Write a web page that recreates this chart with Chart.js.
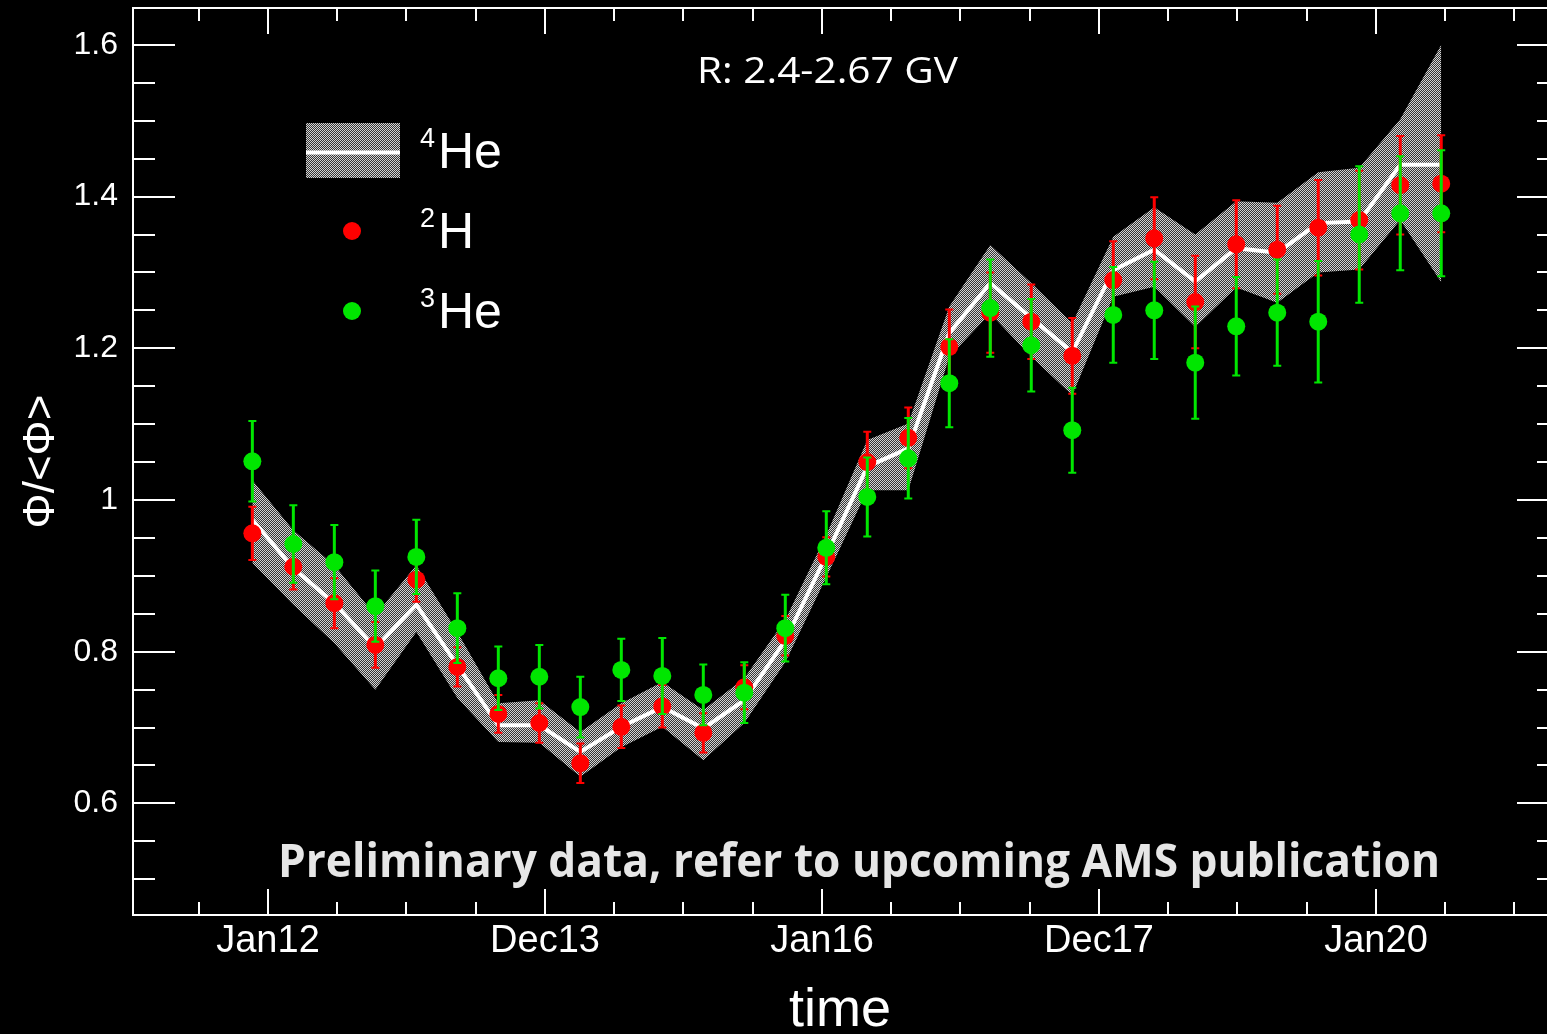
<!DOCTYPE html>
<html>
<head>
<meta charset="utf-8">
<script src="https://cdn.jsdelivr.net/npm/chart.js@4.4.1/dist/chart.umd.min.js"></script>
<style>
  html, body { margin: 0; padding: 0; background: #000; }
  #wrap { width: 1547px; height: 1034px; }
</style>
</head>
<body>
<div id="wrap"><canvas id="fluxChart" width="1547" height="1034"></canvas></div>
<script>
// bin centres (4 Bartels rotations each), decimal years
var binTime = [2011.887, 2012.183, 2012.479, 2012.775, 2013.071, 2013.367, 2013.663, 2013.959,
               2014.255, 2014.551, 2014.847, 2015.143, 2015.439, 2015.735, 2016.031, 2016.327,
               2016.623, 2016.919, 2017.215, 2017.511, 2017.807, 2018.103, 2018.399, 2018.695,
               2018.991, 2019.287, 2019.583, 2019.879, 2020.175, 2020.471];

// 4He: central value and band edges
var he4Mid = [0.974, 0.910, 0.864, 0.805, 0.862, 0.782, 0.703, 0.703, 0.668, 0.701,
              0.727, 0.699, 0.736, 0.815, 0.927, 1.044, 1.068, 1.220, 1.286, 1.240,
              1.195, 1.303, 1.330, 1.288, 1.332, 1.326, 1.365, 1.367, 1.442, 1.442];
var he4Up  = [1.026, 0.960, 0.914, 0.848, 0.914, 0.826, 0.732, 0.736, 0.694, 0.732,
              0.760, 0.723, 0.765, 0.842, 0.954, 1.079, 1.101, 1.255, 1.336, 1.286,
              1.233, 1.347, 1.386, 1.350, 1.394, 1.392, 1.432, 1.438, 1.502, 1.600];
var he4Low = [0.917, 0.862, 0.811, 0.750, 0.826, 0.739, 0.681, 0.680, 0.635, 0.674,
              0.701, 0.657, 0.706, 0.786, 0.898, 1.013, 1.013, 1.189, 1.246, 1.189,
              1.138, 1.268, 1.281, 1.228, 1.280, 1.260, 1.300, 1.304, 1.369, 1.287];

// 2H
var h2Val = [0.956, 0.912, 0.864, 0.809, 0.895, 0.780, 0.718, 0.706, 0.653, 0.701,
             0.728, 0.693, 0.753, 0.821, 0.925, 1.050, 1.082, 1.202, 1.247, 1.235,
             1.190, 1.290, 1.345, 1.261, 1.337, 1.330, 1.359, 1.369, 1.415, 1.417];
var h2Err = [0.035, 0.030, 0.033, 0.030, 0.029, 0.026, 0.025, 0.026, 0.026, 0.028,
             0.028, 0.026, 0.029, 0.026, 0.026, 0.040, 0.040, 0.049, 0.053, 0.049,
             0.050, 0.051, 0.054, 0.061, 0.058, 0.058, 0.063, 0.065, 0.065, 0.064];

// 3He
var he3Val = [1.051, 0.942, 0.918, 0.860, 0.925, 0.831, 0.765, 0.767, 0.727, 0.776,
              0.768, 0.743, 0.746, 0.831, 0.937, 1.004, 1.055, 1.154, 1.253, 1.204,
              1.092, 1.244, 1.250, 1.181, 1.229, 1.247, 1.235, 1.350, 1.378, 1.378];
var he3Err = [0.053, 0.051, 0.049, 0.047, 0.049, 0.046, 0.042, 0.042, 0.040, 0.041,
              0.050, 0.040, 0.040, 0.044, 0.048, 0.052, 0.053, 0.058, 0.064, 0.061,
              0.056, 0.063, 0.064, 0.074, 0.065, 0.070, 0.080, 0.090, 0.075, 0.083];

var xTickValues = [2012, 2014, 2016, 2018, 2020];
var xTickLabels = ['Jan12', 'Dec13', 'Jan16', 'Dec17', 'Jan20'];
var yTickValues = [0.6, 0.8, 1, 1.2, 1.4, 1.6];

var WHITE = '#ffffff';
var RED = '#ff0000';
var GREEN = '#00e600';

function pts(vals) {
    return binTime.map(function(t, i) { return { x: t, y: vals[i] }; });
}

// dithered grey used for the 4He band
function bandPattern(ctx) {
    var c = document.createElement('canvas');
    c.width = 2; c.height = 2;
    var p = c.getContext('2d');
    p.fillStyle = '#363636';
    p.fillRect(0, 0, 2, 2);
    p.fillStyle = '#d4d4d4';
    p.fillRect(0, 0, 1, 1);
    p.fillRect(1, 1, 1, 1);
    return ctx.createPattern(c, 'repeat');
}

// keep the plot box exactly where the axes are sized, no label overhang
function noOverhang(scale) {
    scale.paddingTop = 0;
    scale.paddingBottom = 0;
    scale.paddingLeft = 0;
    scale.paddingRight = 0;
}

var ctx = document.getElementById('fluxChart').getContext('2d');
var band = bandPattern(ctx);

var errorBars = {
    id: 'errorBars',
    beforeDatasetDraw: function(chart, args) {
        var ds = chart.data.datasets[args.index];
        if (!ds.yErr) return;
        var c = chart.ctx, xs = chart.scales.x, ys = chart.scales.y;
        c.save();
        c.strokeStyle = ds.backgroundColor;
        ds.data.forEach(function(p, i) {
            var px = xs.getPixelForValue(p.x);
            var top = ys.getPixelForValue(p.y + ds.yErr[i]);
            var bot = ys.getPixelForValue(p.y - ds.yErr[i]);
            c.lineWidth = 3;
            c.beginPath();
            c.moveTo(px, top);
            c.lineTo(px, bot);
            c.stroke();
            c.lineWidth = 2;
            c.beginPath();
            c.moveTo(px - 4, top); c.lineTo(px + 4, top);
            c.moveTo(px - 4, bot); c.lineTo(px + 4, bot);
            c.stroke();
        });
        c.restore();
    }
};

// box frame with inward major/minor ticks on all four sides
var frameTicks = {
    id: 'frameTicks',
    afterDraw: function(chart) {
        var a = chart.chartArea, xs = chart.scales.x, ys = chart.scales.y, c = chart.ctx;
        c.save();
        c.strokeStyle = WHITE;
        c.lineWidth = 2;
        c.beginPath();
        c.moveTo(a.right + 2, a.top);
        c.lineTo(a.left, a.top);
        c.lineTo(a.left, a.bottom);
        c.lineTo(a.right + 2, a.bottom);
        var v, px, len;
        for (v = 2011.5; v <= 2021.01; v += 0.5) {
            px = Math.round(xs.getPixelForValue(v));
            len = xTickValues.indexOf(Math.round(v * 10) / 10) >= 0 ? 26 : 13;
            c.moveTo(px, a.bottom); c.lineTo(px, a.bottom - len);
            c.moveTo(px, a.top); c.lineTo(px, a.top + len);
        }
        for (v = 0.5; v <= 1.61; v += 0.05) {
            var r = Math.round(v * 100) / 100;
            px = Math.round(ys.getPixelForValue(r));
            var major = yTickValues.indexOf(r) >= 0;
            c.moveTo(a.left, px); c.lineTo(a.left + (major ? 42 : 22), px);
            c.moveTo(a.right, px); c.lineTo(a.right - (major ? 30 : 10), px);
        }
        c.stroke();
        c.restore();
    }
};

function fitText(c, text, x, y, width, font, color) {
    c.font = font;
    var w = c.measureText(text).width;
    c.save();
    c.fillStyle = color;
    c.textBaseline = 'alphabetic';
    c.textAlign = 'left';
    c.translate(x, y);
    c.scale(width / w, 1);
    c.fillText(text, 0, 0);
    c.restore();
}

var legendAndNotes = {
    id: 'legendAndNotes',
    afterDraw: function(chart) {
        var c = chart.ctx;
        c.save();
        // 4He swatch
        c.fillStyle = band;
        c.fillRect(306, 123, 94, 55);
        c.strokeStyle = WHITE;
        c.lineWidth = 4;
        c.beginPath();
        c.moveTo(306, 152.5);
        c.lineTo(400, 152.5);
        c.stroke();
        // marker swatches
        c.fillStyle = RED;
        c.beginPath(); c.arc(352, 231, 9, 0, Math.PI * 2); c.fill();
        c.fillStyle = GREEN;
        c.beginPath(); c.arc(352, 311, 9, 0, Math.PI * 2); c.fill();

        c.fillStyle = WHITE;
        c.textAlign = 'left';
        c.textBaseline = 'alphabetic';
        var big = '50px "Liberation Sans", Arial, sans-serif';
        var small = '27px "Liberation Sans", Arial, sans-serif';
        c.font = small; c.fillText('4', 420, 147);
        c.font = big;   c.fillText('He', 438, 168);
        c.font = small; c.fillText('2', 420, 227);
        c.font = big;   c.fillText('H', 438, 248);
        c.font = small; c.fillText('3', 420, 307);
        c.font = big;   c.fillText('He', 438, 328);
        c.restore();

        fitText(c, 'R: 2.4-2.67 GV', 697, 83, 261, '36px "Open Sans", sans-serif', WHITE);
        fitText(c, 'Preliminary data, refer to upcoming AMS publication', 278, 877, 1162,
                'bold 46px "Open Sans", sans-serif', '#e6e6e6');
    }
};

new Chart(ctx, {
    type: 'line',
    data: {
        datasets: [
            {
                label: '4He upper', data: pts(he4Up), fill: '+1', backgroundColor: band,
                borderColor: 'rgba(0,0,0,0)', borderWidth: 0, pointRadius: 0, order: 5
            },
            {
                label: '4He lower', data: pts(he4Low), fill: false,
                borderColor: 'rgba(0,0,0,0)', borderWidth: 0, pointRadius: 0, order: 4
            },
            {
                label: '4He', data: pts(he4Mid), fill: false, borderColor: WHITE,
                borderWidth: 4, pointRadius: 0, order: 3
            },
            {
                label: '2H', data: pts(h2Val), yErr: h2Err, showLine: false,
                pointRadius: 9, pointBackgroundColor: RED, backgroundColor: RED,
                pointBorderWidth: 0, order: 2
            },
            {
                label: '3He', data: pts(he3Val), yErr: he3Err, showLine: false,
                pointRadius: 9, pointBackgroundColor: GREEN, backgroundColor: GREEN,
                pointBorderWidth: 0, order: 1
            }
        ]
    },
    options: {
        responsive: false,
        animation: false,
        events: [],
        layout: { autoPadding: false, padding: { top: 8, left: 0, right: 0, bottom: 0 } },
        elements: { line: { tension: 0 } },
        plugins: {
            legend: { display: false },
            tooltip: { enabled: false }
        },
        scales: {
            x: {
                type: 'linear',
                min: 2011.0253,
                max: 2021.2347,
                grid: { display: false, drawTicks: false },
                border: { display: false },
                afterBuildTicks: function(scale) {
                    scale.ticks = xTickValues.map(function(v) { return { value: v }; });
                },
                afterFit: function(scale) { scale.height = 119; noOverhang(scale); },
                ticks: {
                    autoSkip: false,
                    maxRotation: 0,
                    padding: 4,
                    color: WHITE,
                    font: { family: '"Liberation Sans", Arial, sans-serif', size: 38 },
                    callback: function(value) { return xTickLabels[xTickValues.indexOf(value)]; }
                },
                title: {
                    display: true,
                    text: 'time',
                    color: WHITE,
                    padding: 0,
                    font: { family: '"Liberation Sans", Arial, sans-serif', size: 54, lineHeight: 0.85 }
                }
            },
            y: {
                type: 'linear',
                min: 0.4529,
                max: 1.6486,
                grid: { display: false, drawTicks: false },
                border: { display: false },
                afterBuildTicks: function(scale) {
                    scale.ticks = yTickValues.map(function(v) { return { value: v }; });
                },
                afterFit: function(scale) { scale.width = 133; noOverhang(scale); },
                ticks: {
                    padding: 15,
                    color: WHITE,
                    font: { family: '"Liberation Sans", Arial, sans-serif', size: 32 },
                    callback: function(value) { return String(value); }
                },
                title: {
                    display: true,
                    text: 'Φ/<Φ>',
                    color: WHITE,
                    padding: { top: 15, bottom: 0 },
                    font: { family: '"Liberation Sans", Arial, sans-serif', size: 44 }
                }
            }
        }
    },
    plugins: [errorBars, frameTicks, legendAndNotes]
});
</script>
</body>
</html>
